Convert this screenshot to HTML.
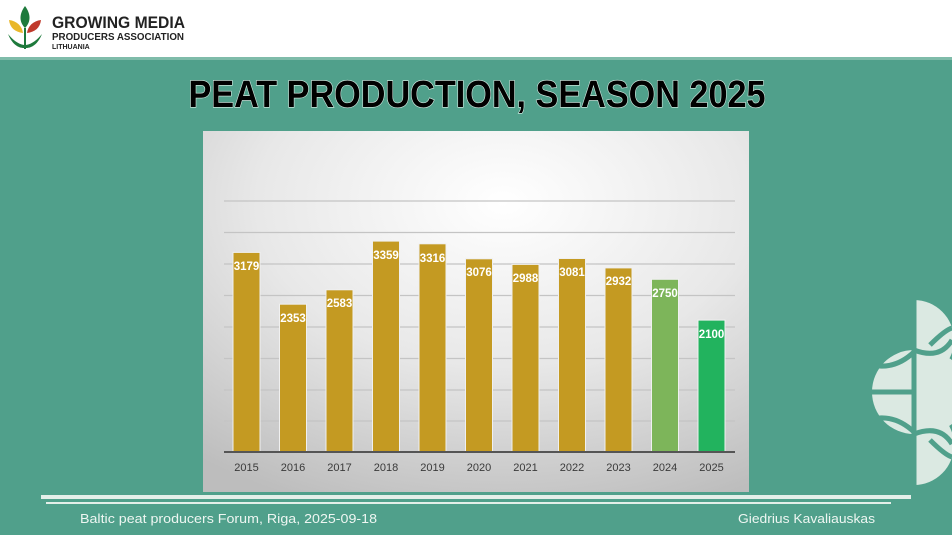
<!DOCTYPE html>
<html><head><meta charset="utf-8"><style>
html,body{margin:0;padding:0;width:952px;height:535px;overflow:hidden;background:#50a08b}
svg{display:block}
</style></head><body>
<svg width="952" height="535" viewBox="0 0 952 535" xmlns="http://www.w3.org/2000/svg" font-family="Liberation Sans, sans-serif">
<defs>
<radialGradient id="pg" cx="0.55" cy="0.2" r="0.9">
<stop offset="0" stop-color="#ffffff"/><stop offset="0.5" stop-color="#e8e8e8"/><stop offset="1" stop-color="#bdbdbd"/>
</radialGradient>
</defs>
<rect width="952" height="535" fill="#50a08b"/>
<rect width="952" height="57" fill="#ffffff"/>
<rect y="57" width="952" height="3" fill="#7fbcaa"/>
<g>
<path d="M25 6 C19 14 19 22 25 28 C31 22 31 14 25 6Z" fill="#1e7a3c"/>
<path d="M9 20 C10 28 15 32 23 33 C22 26 17 21 9 20Z" fill="#e9b72a"/>
<path d="M41 20 C40 28 35 32 27 33 C28 26 33 21 41 20Z" fill="#c0392b"/>
<path d="M8 34 C12 44 18 48 24 48 L24 45 C18 44 13 40 8 34Z" fill="#1e7a3c"/>
<path d="M42 34 C38 44 32 48 26 48 L26 45 C32 44 37 40 42 34Z" fill="#1e7a3c"/>
<rect x="24" y="28" width="2" height="21" fill="#1e7a3c"/>
</g>
<text x="52" y="28" font-size="17" font-weight="bold" fill="#222" textLength="133" lengthAdjust="spacingAndGlyphs">GROWING MEDIA</text>
<text x="52" y="40" font-size="10.5" font-weight="bold" fill="#222" textLength="132" lengthAdjust="spacingAndGlyphs">PRODUCERS ASSOCIATION</text>
<text x="52" y="49" font-size="7" font-weight="bold" fill="#222">LITHUANIA</text>
<text x="477" y="107" font-size="38" font-weight="bold" fill="#000" stroke="#d8eee6" stroke-width="1.2" paint-order="stroke" text-anchor="middle" textLength="577" lengthAdjust="spacingAndGlyphs">PEAT PRODUCTION, SEASON 2025</text>
<rect x="203" y="131" width="546" height="361" fill="url(#pg)"/>
<g stroke="#c4c4c4" stroke-width="1.3">
<line x1="224" x2="735" y1="201" y2="201"/><line x1="224" x2="735" y1="232.5" y2="232.5"/>
<line x1="224" x2="735" y1="264" y2="264"/><line x1="224" x2="735" y1="295.5" y2="295.5"/>
<line x1="224" x2="735" y1="327" y2="327"/><line x1="224" x2="735" y1="358.5" y2="358.5"/>
<line x1="224" x2="735" y1="390" y2="390"/><line x1="224" x2="735" y1="421" y2="421"/>
</g>
<g stroke="#f0f0f0" stroke-width="1">
<rect x="233" y="252.4" width="27" height="199.6" fill="#c49a22"/>
<rect x="279.5" y="304.2" width="27" height="147.8" fill="#c49a22"/>
<rect x="326" y="289.8" width="27" height="162.2" fill="#c49a22"/>
<rect x="372.5" y="241.1" width="27" height="210.9" fill="#c49a22"/>
<rect x="419" y="243.8" width="27" height="208.2" fill="#c49a22"/>
<rect x="465.5" y="258.8" width="27" height="193.2" fill="#c49a22"/>
<rect x="512" y="264.4" width="27" height="187.6" fill="#c49a22"/>
<rect x="558.5" y="258.5" width="27" height="193.5" fill="#c49a22"/>
<rect x="605" y="267.9" width="27" height="184.1" fill="#c49a22"/>
<rect x="651.5" y="279.3" width="27" height="172.7" fill="#7db55a"/>
<rect x="698" y="320.1" width="27" height="131.9" fill="#22b35e"/>
</g>
<g fill="#fff" font-size="11.5" font-weight="bold" text-anchor="middle">
<text x="246.5" y="270">3179</text><text x="293" y="322">2353</text><text x="339.5" y="307">2583</text>
<text x="386" y="259">3359</text><text x="432.5" y="262">3316</text><text x="479" y="276">3076</text>
<text x="525.5" y="282">2988</text><text x="572" y="276">3081</text><text x="618.5" y="285">2932</text>
<text x="665" y="297">2750</text><text x="711.5" y="338">2100</text>
</g>
<line x1="224" x2="735" y1="452" y2="452" stroke="#555" stroke-width="2"/>
<g fill="#3a3a3a" font-size="11" text-anchor="middle">
<text x="246.5" y="471">2015</text><text x="293" y="471">2016</text><text x="339.5" y="471">2017</text>
<text x="386" y="471">2018</text><text x="432.5" y="471">2019</text><text x="479" y="471">2020</text>
<text x="525.5" y="471">2021</text><text x="572" y="471">2022</text><text x="618.5" y="471">2023</text>
<text x="665" y="471">2024</text><text x="711.5" y="471">2025</text>
</g>
<!-- decoration -->
<g fill="#dbe9e2">
<path d="M914 300 A40 40 0 0 1 914 380 Z"/>
<path d="M914 405 A40 40 0 0 1 914 485 Z"/>
<path d="M914 350 A42 42 0 0 0 914 434 Z"/>
<path d="M914 352 A44 44 0 0 1 952 360 L952 424 A44 44 0 0 1 914 432 Z"/>
</g>
<g stroke="#50a08b" stroke-width="5" fill="none">
<line x1="914" y1="295" x2="914" y2="490"/>
<line x1="866" y1="392" x2="914" y2="392"/>
<path d="M914 350 Q940 360 952 340"/>
<path d="M914 434 Q940 424 952 444"/>
<path d="M872 365 Q895 370 914 352"/>
<path d="M872 419 Q895 414 914 432"/>
<path d="M930 345 Q945 330 952 328"/>
<path d="M930 440 Q945 455 952 457"/>
</g>
<rect x="41" y="495" width="870" height="4" fill="#e4efe9"/>
<rect x="46" y="502" width="845" height="2" fill="#e4efe9"/>
<text x="80" y="523" font-size="13" fill="#eef6f2" textLength="297" lengthAdjust="spacingAndGlyphs">Baltic peat producers Forum, Riga, 2025-09-18</text>
<text x="875" y="523" font-size="13" fill="#eef6f2" text-anchor="end" textLength="137" lengthAdjust="spacingAndGlyphs">Giedrius Kavaliauskas</text>
</svg>
</body></html>
